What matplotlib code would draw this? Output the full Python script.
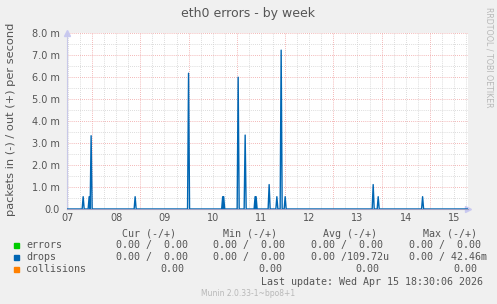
## munin style "eth0 errors - by week" graph
import numpy as np
import matplotlib
matplotlib.use('Agg')
import matplotlib.pyplot as plt

## data (time in days since Apr 07 00:00, values in milli-packets/s)
drop_times = [0.815, 0.939, 0.980, 1.892, 2.999, 3.706, 3.727, 4.027, 4.172,
              4.378, 4.399, 4.669, 4.829, 4.918, 5.001, 6.825, 6.929, 7.849]
drop_vals = [0.56, 0.56, 3.33, 0.56, 6.17, 0.56, 0.56, 5.99, 3.36,
             0.56, 0.56, 1.11, 0.56, 7.22, 0.56, 1.11, 0.56, 0.56]
t_start, t_end = 0.48, 8.79
day_labels = ['07', '08', '09', '10', '11', '12', '13', '14', '15']
y_ticks = [0, 1, 2, 3, 4, 5, 6, 7, 8]

legend_names = ['errors', 'drops', 'collisions']
legend_colors = ['#00cc00', '#0066b3', '#ff8000']
cur_vals = ['0.00 /  0.00', '0.00 /  0.00', '0.00']
min_vals = ['0.00 /  0.00', '0.00 /  0.00', '0.00']
avg_vals = ['0.00 /  0.00', '0.00 /109.72u', '0.00']
max_vals = ['0.00 /  0.00', '0.00 / 42.46m', '0.00']

W, H = 497, 304
fig = plt.figure(figsize=(W / 100, H / 100), dpi=100, facecolor='#f0f0f0')
ax = fig.add_axes([67 / W, (H - 209) / H, 401 / W, 176 / H])
ax.set_facecolor('white')

## build the drops line as narrow spikes on a zero baseline
step = 1 / 48.0
xs, ys = [t_start], [0.0]
for t, v in zip(drop_times, drop_vals):
    xs += [t - step, t, t + step]
    ys += [0.0, v, 0.0]
xs.append(t_end)
ys.append(0.0)
ax.plot(xs, ys, color='#0066b3', lw=1.0, zorder=3)

ax.set_xlim(t_start, t_end)
ax.set_ylim(0, 8.0)

## grid: red majors, grey minors
for d in range(1, 9):
    ax.axvline(d, color='#f0a0a0', lw=0.6, ls=(0, (1, 1.5)), zorder=1)
for q in np.arange(0.5, 8.8, 0.25):
    if abs(q - round(q)) > 0.01:
        ax.axvline(q, color='#d0d0d0', lw=0.6, ls=(0, (1, 1.5)), zorder=0)
for yv in y_ticks[1:]:
    ax.axhline(yv, color='#f0a0a0', lw=0.6, ls=(0, (1, 1.5)), zorder=1)
for yv in np.arange(0.5, 8, 1.0):
    ax.axhline(yv, color='#d0d0d0', lw=0.6, ls=(0, (1, 1.5)), zorder=0)

for s in ['top', 'right']:
    ax.spines[s].set_visible(False)
ax.spines['left'].set_color('#c8c8e8')
ax.spines['bottom'].set_color('#a0a0c0')
ax.spines['left'].set_linewidth(0.8)
ax.spines['bottom'].set_linewidth(0.8)

ax.set_xticks([d + 0.5 for d in range(len(day_labels))])
ax.set_xticklabels(day_labels)
ax.set_yticks(y_ticks)
ax.set_yticklabels(['0.0'] + ['%.1f m' % v for v in y_ticks[1:]])
ax.tick_params(length=0, labelsize=7, colors='#555555', pad=5)
ax.tick_params(axis='x', pad=3)

## axis arrows
ax.plot([1.0], [0], marker='>', color='#c8c8f0', ms=5, transform=ax.transAxes, clip_on=False)
ax.plot([0], [1.0], marker='^', color='#c8c8f0', ms=5, transform=ax.transAxes, clip_on=False)

fig.text(248 / W, 1 - 14 / H, 'eth0 errors - by week', ha='center', va='center',
         fontsize=9, color='#555555')
fig.text(11 / W, 1 - 119 / H, 'packets in (-) / out (+) per second', rotation=90,
         ha='center', va='center', fontsize=8.2, color='#555555')
fig.text(489 / W, 1 - 57 / H, 'RRDTOOL / TOBI OETIKER', rotation=270,
         ha='center', va='center', fontsize=5.7, color='#b8b8b8')

## legend table in mono font
mono = dict(family='DejaVu Sans Mono', fontsize=7.2, color='#555555', va='center')
fig.text(122 / W, 1 - 234 / H, 'Cur (-/+)', **mono)
fig.text(223 / W, 1 - 234 / H, 'Min (-/+)', **mono)
fig.text(323 / W, 1 - 234 / H, 'Avg (-/+)', **mono)
fig.text(423 / W, 1 - 234 / H, 'Max (-/+)', **mono)
rows_y = [245, 257, 269]
for i in range(3):
    yy = 1 - rows_y[i] / H
    fig.patches.append(plt.Rectangle((14 / W, yy - 2.5 / H), 5 / W, 5 / H,
                                     transform=fig.transFigure, color=legend_colors[i]))
    fig.text(26 / W, yy, legend_names[i], **mono)
    if i < 2:
        fig.text(116 / W, yy, cur_vals[i], **mono)
        fig.text(213 / W, yy, min_vals[i], **mono)
        fig.text(311 / W, yy, avg_vals[i], **mono)
        fig.text(409 / W, yy, max_vals[i], **mono)
    else:
        fig.text(184 / W, yy, cur_vals[i], ha='right', **mono)
        fig.text(282 / W, yy, min_vals[i], ha='right', **mono)
        fig.text(379 / W, yy, avg_vals[i], ha='right', **mono)
        fig.text(477 / W, yy, max_vals[i], ha='right', **mono)
fig.text(483 / W, 1 - 282 / H, 'Last update: Wed Apr 15 18:30:06 2026', ha='right', **mono)
fig.text(248 / W, 1 - 293 / H, 'Munin 2.0.33-1~bpo8+1', ha='center', va='center',
         fontsize=5.5, color='#b8b8b8')

fig.savefig('out.png', dpi=100, facecolor=fig.get_facecolor())
